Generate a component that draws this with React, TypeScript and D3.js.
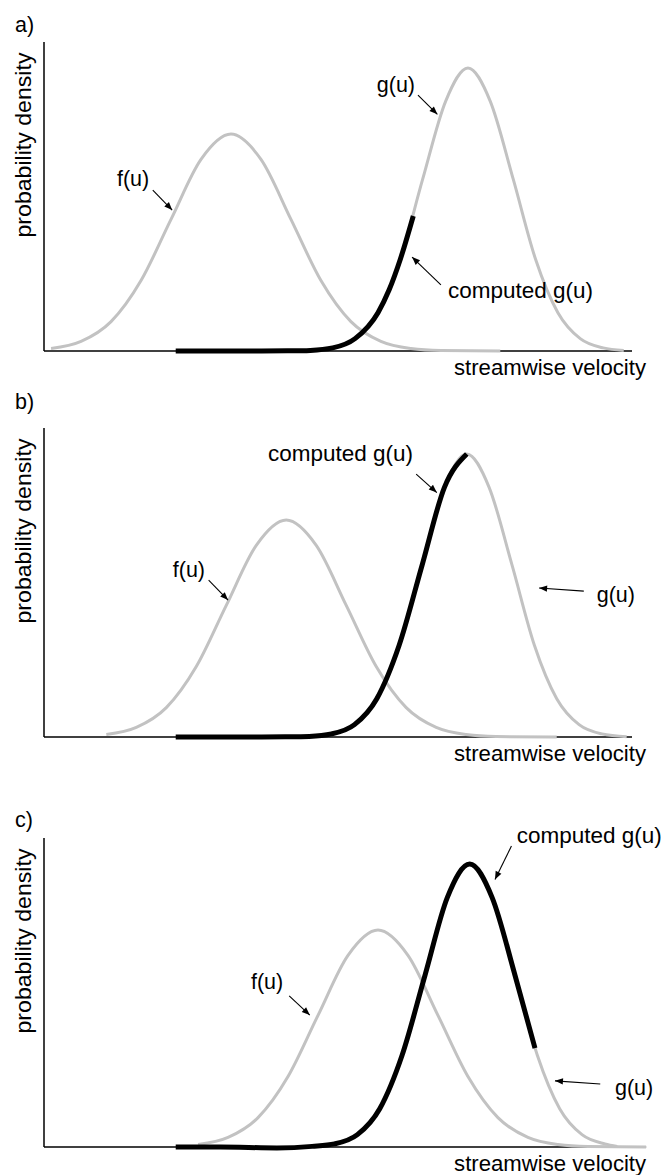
import React from 'react';
import * as d3 from 'd3';

type P = [number, number];

// ---- text ----
const panelLabels = ['a)', 'b)', 'c)'];
const xAxisLabel = 'streamwise velocity';
const yAxisLabel = 'probability density';

// ---- data (velocity 0..100, density 0..100 = top of y axis) ----
// panel a
const fA: P[] = [[1.2,0.8],[6.3,3.1],[11.4,9.5],[16.5,22.8],[21.6,42.6],[26.7,62.0],[31.8,70.2],[36.9,62.0],[42.0,42.6],[47.1,22.8],[52.2,9.5],[57.3,3.1],[62.4,0.8],[67.5,0.15],[77.6,0]];
const gA: P[] = [[49.1,1.0],[52.9,4.0],[56.8,12.4],[60.6,29.7],[64.4,55.6],[68.3,80.8],[72.1,91.6],[75.9,80.8],[79.8,55.6],[83.6,29.7],[87.4,12.4],[91.2,4.0],[95.1,1.0],[98.6,0.2]];
const compA: P[] = [[22.4,0],[30,0],[37,0],[41.4,0.05],[45.3,0.2],[49.1,1.0],[52.9,4.0],[56.8,12.4],[58.7,19.8],[60.6,29.7],[62.8,43.7]];
// panel b
const fB: P[] = [[10.6,0.8],[15.7,3.1],[20.8,9.5],[25.9,22.8],[31.0,42.6],[36.1,62.0],[41.2,70.2],[46.3,62.0],[51.4,42.6],[56.5,22.8],[61.6,9.5],[66.7,3.1],[71.8,0.8],[76.9,0.15],[87.2,0]];
const gB: P[] = [[48.9,1.0],[52.8,4.0],[56.6,12.4],[60.4,29.7],[64.3,55.6],[68.1,80.8],[71.9,91.6],[75.7,80.8],[79.6,55.6],[83.4,29.7],[87.2,12.4],[91.0,4.0],[94.9,1.0],[99.1,0.1]];
const compB: P[] = [[22.4,0],[30,0],[37,0],[41,0.05],[45.1,0.2],[48.9,1.0],[52.8,4.0],[56.6,12.4],[60.4,29.7],[64.3,55.6],[68.1,80.8],[71.9,91.6]];
// panel c
const fC: P[] = [[26.2,0.8],[31.3,3.1],[36.4,9.5],[41.5,22.8],[46.6,42.6],[51.7,62.0],[56.8,70.2],[61.9,62.0],[67.0,42.6],[72.1,22.8],[77.2,9.5],[82.3,3.1],[87.4,0.8],[92.5,0.15],[102.4,0]];
const gC: P[] = [[49.4,1.0],[53.3,4.0],[57.1,12.4],[60.9,29.7],[64.8,55.6],[68.6,80.8],[72.4,91.6],[76.2,80.8],[80.1,55.6],[83.9,29.7],[87.7,12.4],[91.5,4.0],[95.4,1.0],[97.5,0.2]];
const compC: P[] = [[22.4,0],[30,0],[39.6,-0.3],[45.6,0.2],[49.4,1.0],[53.3,4.0],[57.1,12.4],[60.9,29.7],[64.8,55.6],[68.6,80.8],[72.4,91.6],[76.2,80.8],[80.1,55.6],[83.5,32.0]];

// annotations: label, text anchor point, arrow from, arrow to (data units)
type Note = { text: string; at: P; from: P; to: P };
const notesA: Note[] = [
  { text: 'f(u)', at: [12.4, 53.4], from: [18.5, 52.1], to: [21.8, 45.6] },
  { text: 'g(u)', at: [56.6, 83.9], from: [63.6, 82.8], to: [66.9, 76.6] },
  { text: 'computed g(u)', at: [68.7, 17.2], from: [67.5, 21.4], to: [62.6, 30.4] },
];
const notesB: Note[] = [
  { text: 'computed g(u)', at: [38.1, 89.3], from: [63.3, 85.1], to: [66.8, 79.1] },
  { text: 'f(u)', at: [21.9, 51.8], from: [28.0, 50.8], to: [31.3, 44.3] },
  { text: 'g(u)', at: [94.0, 43.7], from: [91.8, 47.2], to: [84.2, 48.2] },
];
const notesC: Note[] = [
  { text: 'computed g(u)', at: [80.4, 98.3], from: [79.5, 97.4], to: [76.7, 86.6] },
  { text: 'f(u)', at: [35.2, 51.1], from: [41.7, 48.9], to: [45.2, 42.7] },
  { text: 'g(u)', at: [97.1, 16.8], from: [94.6, 20.4], to: [86.9, 21.4] },
];
const axisEnds = [100, 100, 102.4];

// ---- layout ----
const W = 664, H = 1175;
const FONT = "'Liberation Sans', Arial, Helvetica, sans-serif";
const FS = 21.5;
const panelTops = [42, 428, 838];
const labelBaselines = [32, 409, 827];
const PH = 309;
const GRAY = '#c2c2c2';

const panels = [
  { f: fA, g: gA, comp: compA, notes: notesA },
  { f: fB, g: gB, comp: compB, notes: notesB },
  { f: fC, g: gC, comp: compC, notes: notesC },
];

const x = d3.scaleLinear().domain([0, 100]).range([44, 632]);

export default function App() {
  return (
    <svg width={W} height={H} style={{ position: 'absolute', left: 0, top: 0, background: '#fff' }}
      fontFamily={FONT}>
      <defs>
        <marker id="ah" viewBox="0 0 10 10" refX="10" refY="5" markerWidth="9" markerHeight="8"
          markerUnits="userSpaceOnUse" orient="auto">
          <path d="M0,1 L10,5 L0,9 z" fill="#000" />
        </marker>
      </defs>
      {panels.map((p, i) => {
        const top = panelTops[i];
        const y = d3.scaleLinear().domain([0, 100]).range([top + PH, top]);
        const line = d3.line<P>().x(d => x(d[0])).y(d => y(d[1])).curve(d3.curveMonotoneX);
        const base = y(0);
        return (
          <g key={i}>
            <text x={15} y={labelBaselines[i]} fontSize={FS}>{panelLabels[i]}</text>
            {/* axes */}
            <line x1={x(0)} x2={x(0)} y1={y(100)} y2={base} stroke="#000" strokeWidth={1.5} />
            <line x1={x(0)} x2={x(axisEnds[i])} y1={base} y2={base} stroke="#000" strokeWidth={1.7} />
            <text transform={`translate(31,${top + 103}) rotate(-90)`} textAnchor="middle" fontSize={FS}
              textLength={185} lengthAdjust="spacingAndGlyphs">{yAxisLabel}</text>
            <text x={x(axisEnds[i]) + 14 - (i === 2 ? 14 : 0)} y={base + 24} textAnchor="end" fontSize={FS}
              textLength={192} lengthAdjust="spacingAndGlyphs">{xAxisLabel}</text>
            {/* curves */}
            <path d={line(p.f) || ''} fill="none" stroke={GRAY} strokeWidth={3} />
            <path d={line(p.g) || ''} fill="none" stroke={GRAY} strokeWidth={3} />
            <path d={line(p.comp) || ''} fill="none" stroke="#000" strokeWidth={5} />
            {/* annotations */}
            {p.notes.map((n, j) => (
              <g key={j}>
                <text x={x(n.at[0])} y={y(n.at[1])} fontSize={FS}
                  textLength={n.text.length > 5 ? 145 : undefined}
                  lengthAdjust={n.text.length > 5 ? 'spacingAndGlyphs' : undefined}>{n.text}</text>
                <line x1={x(n.from[0])} y1={y(n.from[1])} x2={x(n.to[0])} y2={y(n.to[1])}
                  stroke="#000" strokeWidth={1.1} markerEnd="url(#ah)" />
              </g>
            ))}
          </g>
        );
      })}
    </svg>
  );
}
